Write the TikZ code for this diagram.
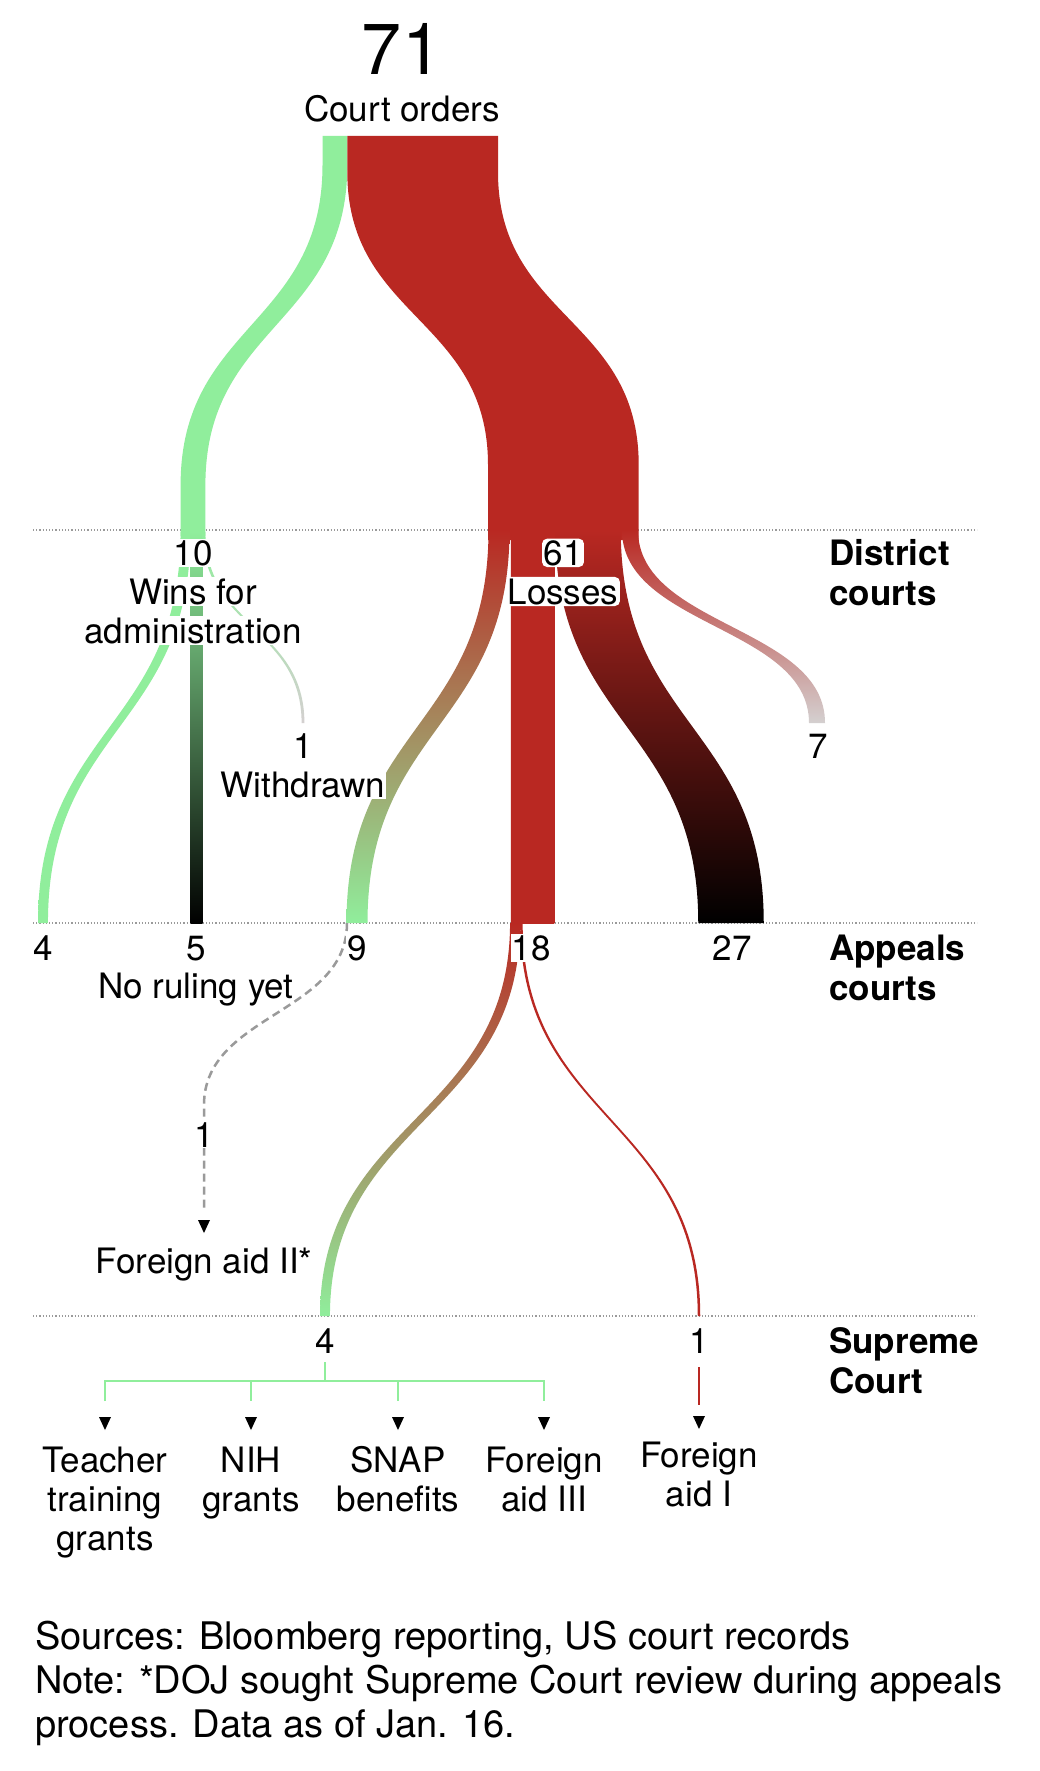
\documentclass[tikz,border=0pt]{standalone}
\usepackage{fontspec}
\setmainfont{TeX Gyre Heros}
\definecolor{lgreen}{HTML}{90EE9C}
\definecolor{cred}{HTML}{B92822}
\definecolor{lgray}{HTML}{D4D0D0}
\definecolor{dgray}{HTML}{9A9A9A}
\newcommand{\sband}[7]{%
  \shade[top color=#6,bottom color=#7]
  ({#1-(#5)/2},#2) .. controls ({#1-(#5)/2},{(#2+#4)/2}) and ({#3-(#5)/2},{(#2+#4)/2}) .. ({#3-(#5)/2},#4)
  -- ({#3+(#5)/2},#4) .. controls ({#3+(#5)/2},{(#2+#4)/2}) and ({#1+(#5)/2},{(#2+#4)/2}) .. ({#1+(#5)/2},#2) -- cycle;}
\newcommand{\tip}[2]{\fill[black] ({#1-6},#2) -- ({#1+6},#2) -- (#1,{#2+13}) -- cycle;}
\tikzset{
  lbl/.style={inner sep=1pt, font=\fontsize{35}{40}\selectfont, anchor=base},
  notetxt/.style={inner sep=1pt, font=\fontsize{38}{44}\selectfont, anchor=base west},
  hdr/.style={inner sep=1pt, font=\fontsize{35}{40}\selectfont\bfseries, anchor=base west},
  wbg/.style={fill=white},
  wbgr/.style={fill=white, rounded corners=5pt, inner sep=1.5pt},
  levelline/.style={draw=dgray, line width=1.2pt, dash pattern=on 1.2pt off 2pt},
  dashlink/.style={draw=dgray, line width=2.5pt, dash pattern=on 8pt off 5pt},
  bracket/.style={draw=lgreen, line width=2.5pt}
}
\begin{document}
\begin{tikzpicture}[x=1pt,y=-1pt]
\useasboundingbox (0,0) rectangle (1040,1771);
\fill[white] (0,0) rectangle (1040,1771);
% level lines
\foreach \yy in {530,923,1316} \draw[levelline] (33,\yy) -- (977,\yy);
% top flows
\fill[lgreen] (322.5,136) -- (322.5,165) .. controls (322.5,325) and (180.6,325) .. (180.6,485) -- (180.6,536) -- (205.4,536) -- (205.4,485) .. controls (205.4,325) and (347.3,325) .. (347.3,165) -- (347.3,136) -- cycle;
\fill[cred] (347.3,136) -- (347.3,172) .. controls (347.3,318) and (488,318) .. (488,465) -- (488,540) -- (638.7,540) -- (638.7,465) .. controls (638.7,318) and (498,318) .. (498,172) -- (498,136) -- cycle;
% district -> appeals
\sband{185.5}{532}{43}{923}{9.9}{lgreen}{lgreen}
\sband{196.7}{532}{196.7}{923}{12}{lgreen}{black}
\sband{204}{532}{303}{723}{2.8}{lgreen}{lgray}
\sband{499}{530}{357}{923}{21}{cred}{lgreen}
\sband{532.5}{530}{532.5}{923}{43.5}{cred}{cred}
\sband{588}{530}{731}{923}{65.5}{cred}{black}
\sband{630}{530}{817}{723}{16}{cred}{lgray}
% appeals -> supreme
\sband{515}{923}{325}{1316}{9.9}{cred}{lgreen}
\sband{521.4}{923}{699}{1316}{2.5}{cred}{cred}
% dashed link
\coordinate (dsA) at (347,923);
\coordinate (dsB) at (204,1105);
\coordinate (dsC) at (204,1208);
\draw[dashlink] (dsA) .. controls (347,1014) and (204,1014) .. (dsB) -- (dsC);
\tip{204}{1220}
% supreme bracket
\coordinate (br0) at (325,1362);
\coordinate (brm) at (325,1381);
\coordinate (brL) at (105,1381);
\coordinate (brR) at (544,1381);
\draw[bracket] (br0) -- (brm);
\draw[bracket] (105,1401) -- (brL) -- (brR) -- (544,1401);
\draw[bracket] (251,1381) -- (251,1401);
\draw[bracket] (398,1381) -- (398,1401);
\draw[cred, line width=2.5pt] (699,1367) -- (699,1405);
\tip{105}{1417}\tip{251}{1417}\tip{398}{1417}\tip{544}{1417}\tip{699}{1416}
% labels top
\node[lbl] (n71) at (402,75) {\fontsize{72}{72}\selectfont 71};
\node[lbl] (corders) at (402,122) {Court orders};
% district labels
\node[lbl,wbg] (d10) at (193,565) {10};
\node[lbl,wbg] (wins) at (193,604) {Wins for};
\node[lbl,wbg] (admin) at (193,643) {administration};
\node[lbl,wbgr] (d61) at (563,565) {61};
\node[lbl,wbgr] (losses) at (563,604) {Losses};
\node[hdr] (dist1) at (828,565) {District};
\node[hdr] (dist2) at (828,605) {courts};
\node[lbl,wbg] (w1) at (303,758) {1};
\node[lbl,wbg] (withd) at (303,797) {Withdrawn};
\node[lbl] (d7) at (818,758) {7};
% appeals labels
\node[lbl] (a4) at (43,960) {4};
\node[lbl] (a5) at (196,960) {5};
\node[lbl,wbg] (a9) at (357,960) {9};
\node[lbl,wbg] (a18) at (531,960) {18};
\node[lbl] (a27) at (732,960) {27};
\node[lbl] (noruling) at (196,998) {No ruling yet};
\node[hdr] (app1) at (828,960) {Appeals};
\node[hdr] (app2) at (828,1000) {courts};
\node[lbl,wbg] (f1) at (204,1147) {1};
\node[lbl] (fa2) at (204,1273) {Foreign aid II*};
% supreme labels
\node[lbl] (s4) at (325,1353) {4};
\node[lbl] (s1) at (699,1353) {1};
\node[hdr] (sup1) at (828,1353) {Supreme};
\node[hdr] (sup2) at (828,1393) {Court};
\node[lbl] (t1) at (105,1472) {Teacher};
\node[lbl] (t2) at (105,1511) {training};
\node[lbl] (t3) at (105,1550) {grants};
\node[lbl] (nih1) at (251,1472) {NIH};
\node[lbl] (nih2) at (251,1511) {grants};
\node[lbl] (snap1) at (398,1472) {SNAP};
\node[lbl] (snap2) at (398,1511) {benefits};
\node[lbl] (fa31) at (544,1472) {Foreign};
\node[lbl] (fa32) at (544,1511) {aid III};
\node[lbl] (fa11) at (699,1467) {Foreign};
\node[lbl] (fa12) at (699,1506) {aid I};
% note
\node[notetxt] (src) at (34,1649) {Sources: Bloomberg reporting, US court records};
\node[notetxt] (note1) at (34,1693) {Note: *DOJ sought Supreme Court review during appeals};
\node[notetxt] (note2) at (34,1737) {process. Data as of Jan. 16.};
\end{tikzpicture}
\end{document}
